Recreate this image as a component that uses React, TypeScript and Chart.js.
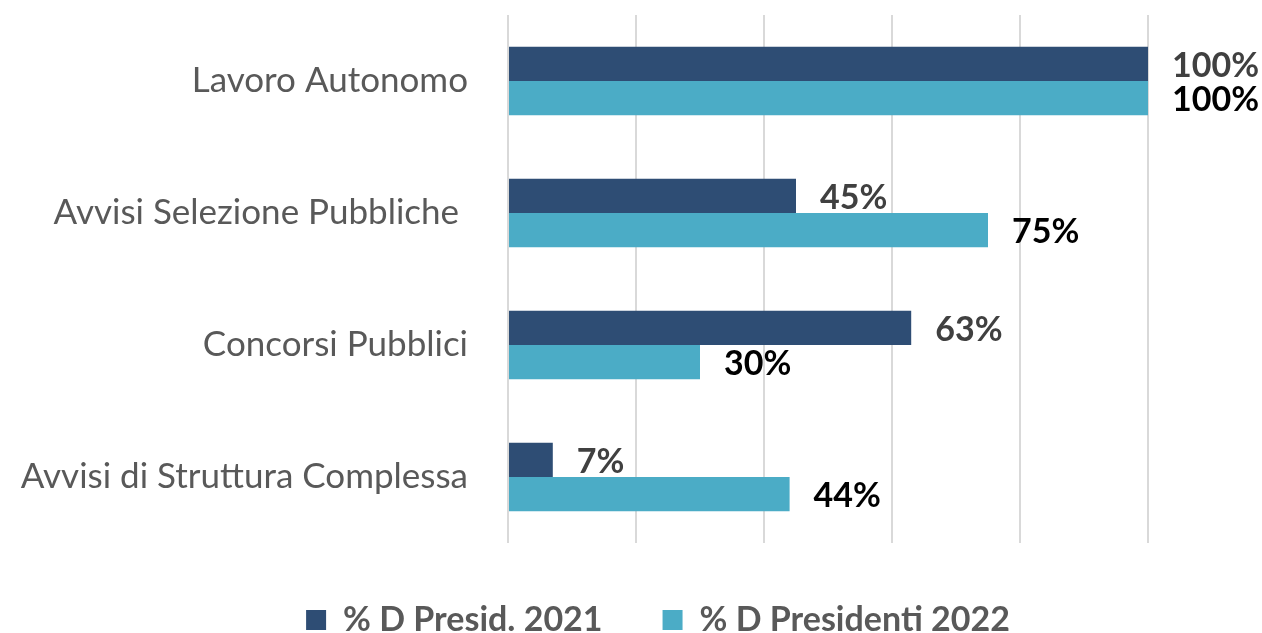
import React, { useEffect, useRef } from 'react';
import { Chart, registerables } from 'chart.js';

Chart.register(...registerables);

const categories = ['Lavoro Autonomo', 'Avvisi Selezione Pubbliche ', 'Concorsi Pubblici', 'Avvisi di Struttura Complessa'];
const seriesNames = ['% D Presid. 2021', '% D Presidenti 2022'];
const values2021 = [100, 45, 63, 7];
const values2022 = [100, 75, 30, 44];
const xMin = 0;
const xMax = 100;
const xStep = 20;

const COLORS = ['#2E4D74', '#4BACC6'];
const LABEL_COLORS = ['#404040', '#000000'];
const FONT = 'Lato, "Open Sans", sans-serif';
const LEGEND_SHIFT = 84;

const valueLabels = {
  id: 'valueLabels',
  afterDatasetsDraw(chart: any) {
    const ctx = chart.ctx;
    ctx.save();
    ctx.font = `bold 34px ${FONT}`;
    ctx.textAlign = 'left';
    ctx.textBaseline = 'middle';
    chart.data.datasets.forEach((ds: any, di: number) => {
      const meta = chart.getDatasetMeta(di);
      meta.data.forEach((el: any, i: number) => {
        ctx.fillStyle = LABEL_COLORS[di];
        ctx.fillText(`${ds.data[i]}%`, el.x + 24, el.y + 2);
      });
    });
    ctx.restore();
  },
};

const legendTweak = {
  id: 'legendTweak',
  beforeInit(chart: any) {
    const legend = chart.legend;
    if (!legend) return;
    const origFit = legend.fit;
    legend.fit = function () {
      origFit.call(this);
      this.height = 90;
    };
    const origDraw = legend.draw;
    legend.draw = function (...args: any[]) {
      const ctx = this.ctx;
      ctx.save();
      ctx.translate(LEGEND_SHIFT, 0);
      origDraw.apply(this, args);
      ctx.restore();
    };
  },
};

export default function App() {
  const ref = useRef<HTMLCanvasElement>(null);
  useEffect(() => {
    if (!ref.current) return;
    const chart = new Chart(ref.current, {
      type: 'bar',
      data: {
        labels: categories,
        datasets: [
          { label: seriesNames[0], data: values2021, backgroundColor: COLORS[0], categoryPercentage: 0.52, barPercentage: 1 },
          { label: seriesNames[1], data: values2022, backgroundColor: COLORS[1], categoryPercentage: 0.52, barPercentage: 1 },
        ],
      },
      options: {
        indexAxis: 'y',
        responsive: true,
        maintainAspectRatio: false,
        animation: false,
        layout: { padding: { left: 0, right: 114, top: 15, bottom: 0 } },
        scales: {
          x: {
            min: xMin,
            max: xMax,
            ticks: { display: false, stepSize: xStep },
            border: { display: false },
            grid: { color: '#D9D9D9', lineWidth: 2, drawTicks: false },
          },
          y: {
            grid: { display: false },
            border: { display: false },
            ticks: { color: '#595959', font: { family: FONT, size: 35 }, padding: 32 },
            afterFit: (scale: any) => {
              scale.width = 508;
              scale.paddingTop = 0;
              scale.paddingBottom = 0;
            },
          },
        },
        plugins: {
          legend: {
            position: 'bottom',
            labels: {
              color: '#595959',
              font: { family: FONT, size: 34, weight: 'bold' },
              boxWidth: 20,
              boxHeight: 20,
              padding: 60,
            },
          },
          tooltip: { enabled: false },
        },
      },
      plugins: [valueLabels, legendTweak],
    });
    return () => chart.destroy();
  }, []);
  return (
    <div style={{ position: 'fixed', left: 0, top: 0, width: 1262, height: 633, background: '#fff' }}>
      <canvas ref={ref} />
    </div>
  );
}
